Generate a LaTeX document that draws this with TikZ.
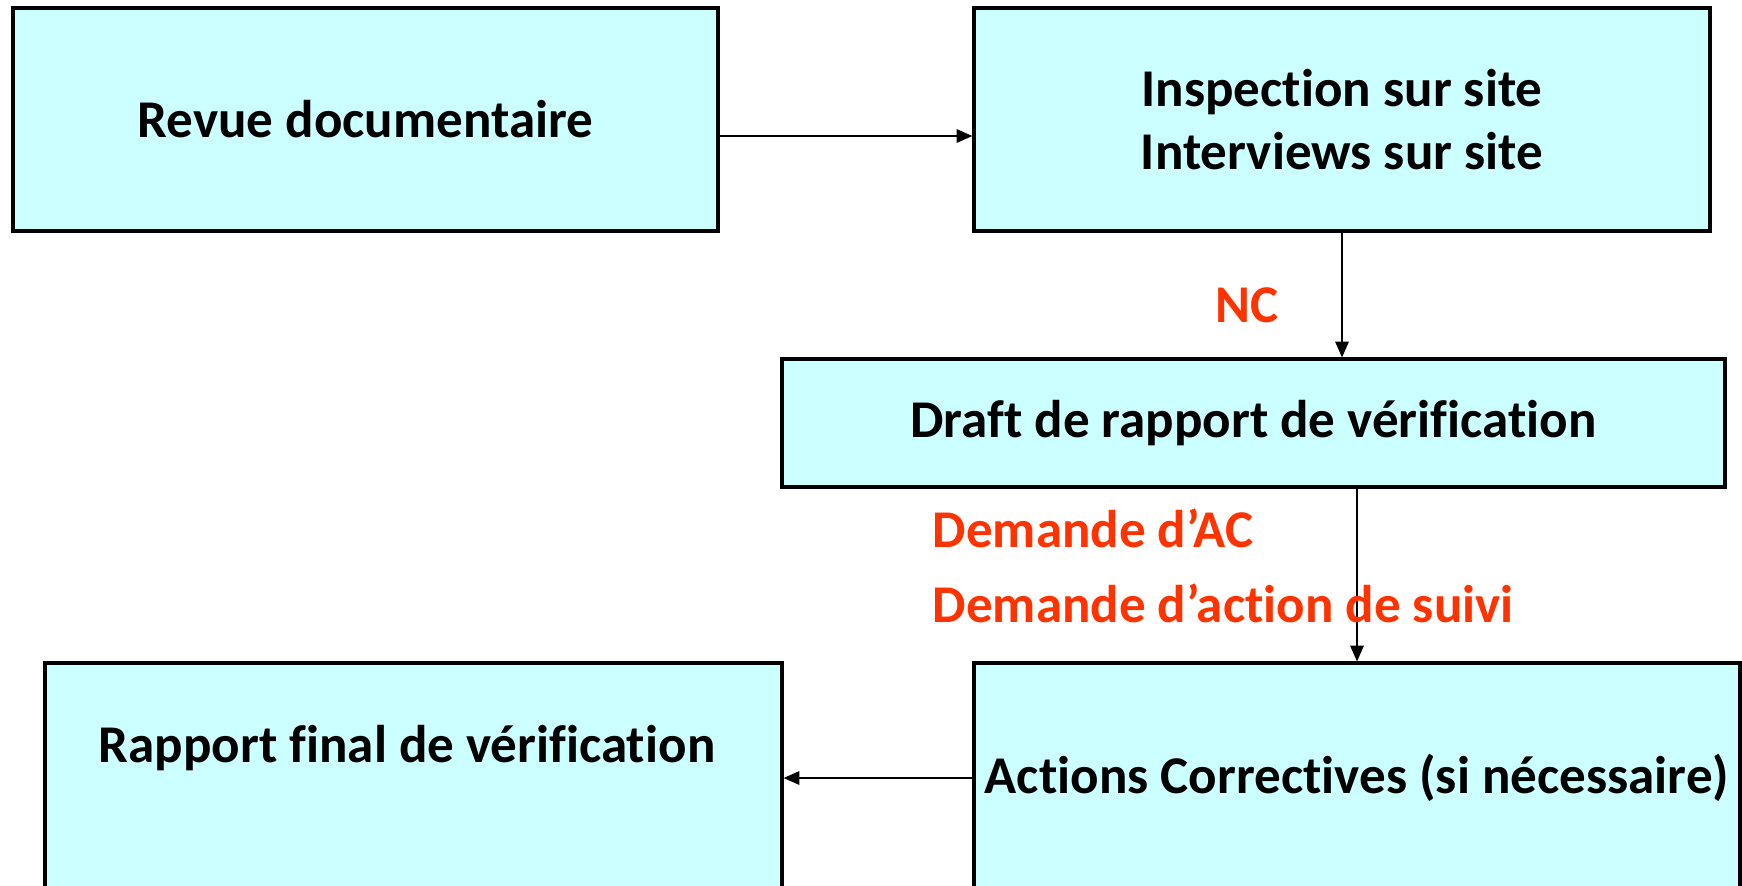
\documentclass[tikz,border=0pt]{standalone}
\usepackage{fontspec}
\setmainfont{Carlito}[Ligatures=NoCommon]
\usetikzlibrary{arrows.meta}
\definecolor{boxfill}{RGB}{204,255,255}
\definecolor{noteorange}{RGB}{255,51,0}
\begin{document}
\begin{tikzpicture}[
    box/.style={draw, line width=0.9pt, fill=boxfill, inner sep=0pt,
      font=\fontsize{15.1}{18}\selectfont\bfseries, align=center},
    flow/.style={line width=0.6pt, -{Triangle[length=4.5pt,width=3.8pt]}},
    note/.style={text=noteorange, inner sep=0pt,
      font=\fontsize{15.1}{18}\selectfont\bfseries}
  ]
  \useasboundingbox (0,0) rectangle (17.42,-8.85);
  \clip (0,0) rectangle (17.42,-8.85);
  \node [box, minimum width=7.05cm, minimum height=2.23cm] (Revue box)
    at (3.655,-1.195) {Revue documentaire};
  \node [box, minimum width=7.36cm, minimum height=2.23cm] (Site box)
    at (13.42,-1.195) {Inspection sur site\\Interviews sur site};
  \node [box, minimum width=9.43cm, minimum height=1.28cm] (Draft box)
    at (12.535,-4.23) {Draft de rapport de vérification};
  \node [box, minimum width=7.37cm, minimum height=2.30cm] (Final box)
    at (4.135,-7.78) {};
  \node [box, minimum width=7.66cm, minimum height=2.30cm] (Action box)
    at (13.57,-7.78) {Actions Correctives (si nécessaire)};
  \node [box, draw=none, fill=none, anchor=base] (Final text)
    at (4.07,-7.62) {Rapport final de vérification};
  \draw [flow]
    ([yshift=-0.165cm]Revue box.east)
    -- ([yshift=-0.165cm]Site box.west)
  ;
  \draw [flow]
    (Site box.south)
    -- (Site box.south |- Draft box.north)
      node [note, pos=0.58, left=0.62cm] (NC) {NC}
  ;
  \draw [flow]
    (Draft box.south -| Action box.north)
    -- (Action box.north)
  ;
  \draw [flow]
    (Action box.west)
    -- (Final box.east)
  ;
  \node [note, anchor=base west] (Demande AC) at (9.32,-5.47) {Demande d’AC};
  \node [note, anchor=base west] (Demande suivi) at (9.32,-6.22)
    {Demande d’action de suivi};
\end{tikzpicture}
\end{document}
